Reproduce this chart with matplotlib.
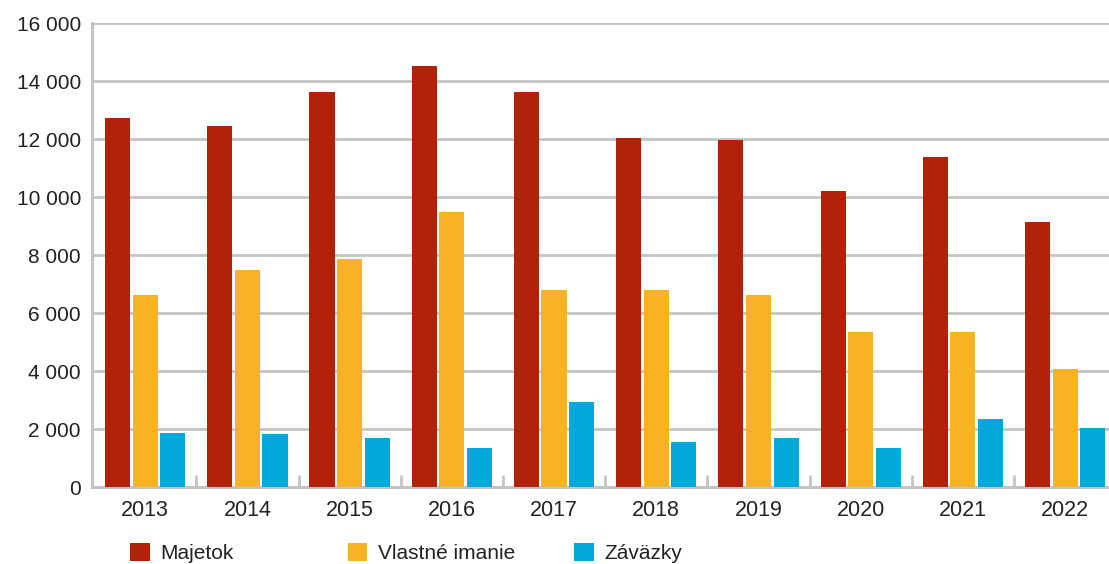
import numpy as np
import matplotlib
matplotlib.use("Agg")
from matplotlib import pyplot as plt
from matplotlib.patches import Patch
from matplotlib.ticker import FuncFormatter, MultipleLocator

years = ["2013", "2014", "2015", "2016", "2017", "2018", "2019", "2020", "2021", "2022"]
majetok = [12720, 12450, 13620, 14530, 13620, 12030, 11970, 10210, 11380, 9140]
vlastne_imanie = [6620, 7480, 7860, 9480, 6790, 6790, 6620, 5340, 5340, 4070]
zavazky = [1870, 1840, 1700, 1350, 2930, 1550, 1690, 1350, 2350, 2030]

series = [
    ("Majetok", majetok, "#b22208"),
    ("Vlastné imanie", vlastne_imanie, "#f9b225"),
    ("Záväzky", zavazky, "#00a8db"),
]

plt.rcParams["font.family"] = ["Liberation Sans", "DejaVu Sans"]
plt.rcParams["font.size"] = 15

fig = plt.figure(figsize=(11.09, 5.64), dpi=100)
ax = fig.add_axes([0.083, 0.1365, 0.917, 0.8226])

x = np.arange(len(years))
bar_w = 0.245
step = 0.27
for i, (name, vals, col) in enumerate(series):
    ax.bar(x + (i - 1) * step, vals, bar_w, color=col, zorder=3)

ax.set_ylim(0, 16000)
ax.set_xlim(-0.52, 9.43)
ax.yaxis.set_major_locator(MultipleLocator(2000))
ax.yaxis.set_major_formatter(FuncFormatter(lambda v, p: f"{int(v):,}".replace(",", " ")))
ax.grid(axis="y", color="#c4c4c4", linewidth=2, zorder=0)
ax.set_axisbelow(True)

ax.set_xticks(x)
ax.set_xticklabels(years, fontsize=15.5)
ax.set_xticks(x[:-1] + 0.5, minor=True)
ax.tick_params(axis="x", which="major", length=0, pad=9, labelcolor="#222222")
ax.tick_params(axis="x", which="minor", direction="in", length=9, width=2, color="#c4c4c4")
ax.tick_params(axis="y", length=0, pad=8, labelcolor="#222222")

for s in ["top", "right"]:
    ax.spines[s].set_visible(False)
for s in ["left", "bottom"]:
    ax.spines[s].set_color("#c4c4c4")
    ax.spines[s].set_linewidth(2.2)

# legend entries placed one by one, like the original layout
leg_x = [0.1175, 0.3135, 0.5175]
for (name, vals, col), lx in zip(series, leg_x):
    lg = fig.legend(
        handles=[Patch(facecolor=col, edgecolor="none")],
        labels=[name],
        loc="center left",
        bbox_to_anchor=(lx, 0.019),
        frameon=False,
        handlelength=0.95,
        handleheight=0.95,
        handletextpad=0.5,
        borderpad=0,
        borderaxespad=0,
    )
    for t in lg.get_texts():
        t.set_color("#222222")

fig.savefig("out.png", dpi=100)
